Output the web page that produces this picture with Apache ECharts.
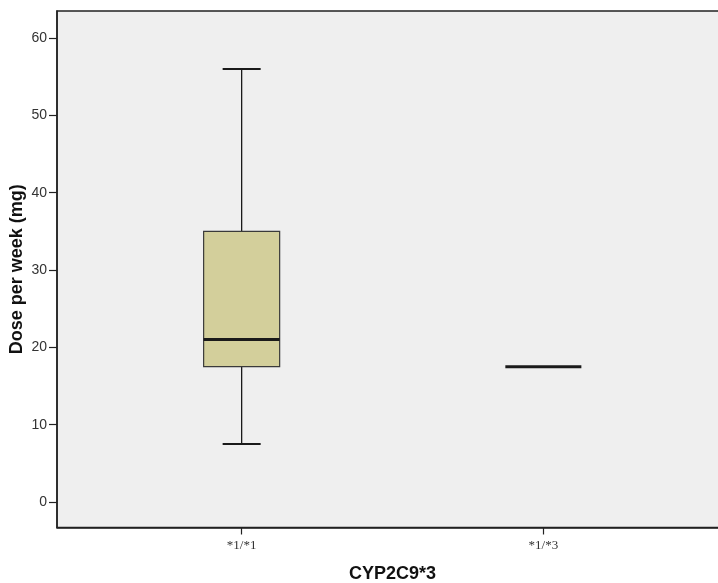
<!DOCTYPE html>
<html>
<head>
<meta charset="utf-8">
<script src="https://cdn.jsdelivr.net/npm/echarts@6/dist/echarts.min.js"></script>
<style>
  html, body { margin: 0; padding: 0; background: #fff; }
  #chart { width: 718px; height: 583px; }
</style>
</head>
<body>
<div id="chart"></div>
<script>
// genotype groups and their box statistics (mg per week)
const categories = ['*1/*1', '*1/*3'];
const mins = [7.5, 17.5];
const q1s = [17.5, 17.5];
const medians = [21, 17.5];
const q3s = [35, 17.5];
const maxs = [56, 17.5];
const yTicks = [0, 10, 20, 30, 40, 50, 60];

const boxData = categories.map((c, i) => [i + 1, mins[i], q1s[i], medians[i], q3s[i], maxs[i]]);

const renderBox = (params, api) => {
	const x = api.value(0);
	const pMin = api.coord([x, api.value(1)]);
	const pQ1 = api.coord([x, api.value(2)]);
	const pMed = api.coord([x, api.value(3)]);
	const pQ3 = api.coord([x, api.value(4)]);
	const pMax = api.coord([x, api.value(5)]);
	const w = api.size([0.252, 0])[0];
	const half = w / 2;
	const cx = pMed[0];
	const children = [];
	const line = (x1, y1, x2, y2, width) => ({
		type: 'line',
		shape: { x1, y1, x2, y2 },
		style: { stroke: '#1a1a1a', lineWidth: width || 1.3 },
	});
	if (pMax[1] < pQ3[1]) {
		children.push(line(cx, pMax[1], cx, pQ3[1]));
		children.push(line(cx - half / 2, pMax[1], cx + half / 2, pMax[1], 2));
	}
	if (pMin[1] > pQ1[1]) {
		children.push(line(cx, pQ1[1], cx, pMin[1]));
		children.push(line(cx - half / 2, pMin[1], cx + half / 2, pMin[1], 2));
	}
	if (pQ1[1] - pQ3[1] > 0.5) {
		children.push({
			type: 'rect',
			shape: { x: cx - half, y: pQ3[1], width: w, height: pQ1[1] - pQ3[1] },
			style: { fill: '#d3cf9b', stroke: '#3a3a3a', lineWidth: 1.2 },
		});
	}
	children.push(line(cx - half, pMed[1], cx + half, pMed[1], 3));
	return { type: 'group', children };
};

const option = {
	animation: false,
	backgroundColor: '#ffffff',
	grid: {
		left: 57,
		right: -10,
		top: 11,
		bottom: 55.5,
		containLabel: false,
		outerBoundsMode: 'none',
		show: true,
		backgroundColor: '#efefef',
		borderColor: '#222',
		borderWidth: 1.5,
	},
	xAxis: {
		type: 'value',
		min: 0.388,
		max: 2.612,
		name: 'CYP2C9*3',
		nameLocation: 'middle',
		nameGap: 38,
		nameMoveOverlap: false,
		nameTextStyle: { fontFamily: 'Liberation Sans', fontWeight: 'bold', fontSize: 18, color: '#111' },
		axisLine: { show: true, onZero: false, lineStyle: { color: '#222', width: 1.5 } },
		axisTick: { show: true, length: 7, customValues: [1, 2], lineStyle: { color: '#222', width: 1.2 } },
		axisLabel: {
			customValues: [1, 2],
			margin: 12,
			fontFamily: 'Liberation Serif',
			fontSize: 13,
			color: '#333',
			formatter: v => categories[Math.round(v) - 1] || '',
		},
		splitLine: { show: false },
	},
	yAxis: {
		type: 'value',
		min: -3.3,
		max: 63.5,
		name: 'Dose per week (mg)',
		nameLocation: 'middle',
		nameGap: 31,
		nameMoveOverlap: false,
		nameTextStyle: { fontFamily: 'Liberation Sans', fontWeight: 'bold', fontSize: 18, color: '#111' },
		axisLine: { show: true, onZero: false, lineStyle: { color: '#222', width: 1.5 } },
		axisTick: { show: true, length: 8, customValues: yTicks, lineStyle: { color: '#222', width: 1.2 } },
		axisLabel: {
			customValues: yTicks,
			margin: 10,
			fontFamily: 'Liberation Sans',
			fontSize: 14,
			color: '#333',
		},
		splitLine: { show: false },
	},
	series: [
		{
			type: 'custom',
			renderItem: renderBox,
			encode: { x: 0, y: [1, 2, 3, 4, 5] },
			data: boxData,
			clip: false,
		},
	],
};

const myEcharts = echarts.init(document.getElementById('chart'));
myEcharts.setOption(option);
</script>
</body>
</html>
